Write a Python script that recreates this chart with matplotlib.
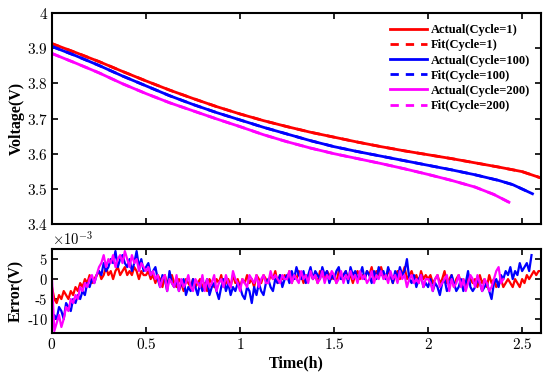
import numpy as np
import matplotlib
matplotlib.use("Agg")
import matplotlib.pyplot as plt
from matplotlib.ticker import FuncFormatter

plt.rcParams['mathtext.fontset'] = 'cm'
plt.rcParams['font.family'] = ['Liberation Serif', 'DejaVu Serif']

# ---------------- data ----------------
t_knots_1 = [0, 0.125, 0.25, 0.375, 0.5, 0.625, 0.75, 0.875, 1.0, 1.125, 1.25, 1.375,
             1.5, 1.625, 1.75, 1.875, 2.0, 2.125, 2.25, 2.375, 2.5, 2.6]
v_actual_1 = [3.913, 3.888, 3.862, 3.834, 3.807, 3.781, 3.757, 3.734, 3.713, 3.694, 3.677, 3.661,
              3.647, 3.633, 3.620, 3.608, 3.597, 3.586, 3.574, 3.562, 3.549, 3.531]
v_fit_1 = [3.913, 3.888, 3.862, 3.834, 3.807, 3.781, 3.757, 3.734, 3.713, 3.694, 3.677, 3.661,
           3.647, 3.633, 3.620, 3.608, 3.597, 3.586, 3.574, 3.562, 3.549, 3.531]

t_knots_100 = [0, 0.125, 0.25, 0.375, 0.5, 0.625, 0.75, 0.875, 1.0, 1.125, 1.25, 1.375,
               1.5, 1.625, 1.75, 1.875, 2.0, 2.125, 2.25, 2.375, 2.45, 2.555]
v_actual_100 = [3.905, 3.879, 3.851, 3.821, 3.793, 3.765, 3.740, 3.717, 3.696, 3.675, 3.656, 3.637,
                3.620, 3.606, 3.593, 3.580, 3.567, 3.554, 3.540, 3.524, 3.512, 3.486]
v_fit_100 = [3.905, 3.879, 3.851, 3.821, 3.793, 3.765, 3.740, 3.717, 3.696, 3.675, 3.656, 3.637,
             3.620, 3.606, 3.593, 3.580, 3.567, 3.554, 3.540, 3.524, 3.512, 3.486]

t_knots_200 = [0, 0.125, 0.25, 0.375, 0.5, 0.625, 0.75, 0.875, 1.0, 1.125, 1.25, 1.375,
               1.5, 1.625, 1.75, 1.875, 2.0, 2.125, 2.25, 2.35, 2.43]
v_actual_200 = [3.885, 3.858, 3.830, 3.799, 3.771, 3.745, 3.722, 3.699, 3.677, 3.654, 3.634, 3.616,
                3.600, 3.586, 3.572, 3.557, 3.541, 3.524, 3.505, 3.484, 3.462]
v_fit_200 = [3.885, 3.858, 3.830, 3.799, 3.771, 3.745, 3.722, 3.699, 3.677, 3.654, 3.634, 3.616,
             3.600, 3.586, 3.572, 3.557, 3.541, 3.524, 3.505, 3.484, 3.462]

# errors in units of 1e-3 V, sampled every 0.0125 h
err_1 = [-2, -5, -6, -4, -5, -3, -4, -5, -3, -4, -2, -3, -1, -2, 0, -1, 1, -1, 0, 1,
         2, 0, 1, 3, 1, 2, 0, 2, 3, 1, 2, 3, 1, 2, 1, 3, 2, 0, 2, 1,
         1, 2, 0, 1, -1, 1, 0, -2, 1, -1, 0, 1, -1, -2, 0, -1, -3, 0, -1, -2,
         0, -2, -1, 0, -2, -1, -3, 0, -1, -2, 0, -1, 1, -2, -1, 0, -2, 1, -1, 0,
         -2, 0, -1, 1, -1, 0, -2, 1, 0, -1, 1, 0, -1, 1, 0, 2, -1, 1, 0, 1,
         0, 2, -1, 1, 0, 2, 1, -1, 1, 0, 2, 0, 1, -1, 2, 1, 0, 2, 1, 0,
         1, -1, 2, 0, 1, 2, 0, 1, -1, 1, 2, 0, 1, 0, 2, 1, 3, 0, 2, 1,
         3, 1, 0, 2, 1, -1, 1, 2, 0, 1, 3, 0, 1, 2, 0, 1, -1, 2, 0, 1,
         0, 1, -1, 0, 1, -1, 0, 2, -1, 0, 1, -2, 0, 1, -1, 0, -2, 1, 0, -1,
         0, -2, 1, -1, 0, -2, 1, -1, 0, -2, -1, 0, -2, -1, 0, -1, -2, 0, -1, -2,
         0, -1, 1, 0, 1, 2, 1, 2, 2]
err_100 = [-12, -9, -10, -7, -8, -10, -6, -7, -8, -5, -6, -4, -5, -3, -4, -1, -2, 0, -1, 1,
           2, 1, 4, 2, 3, 5, 4, 7, 3, 5, 6, 4, 3, 5, 2, 4, 7, 3, 5, 2,
           3, 4, 1, 2, 3, 0, -2, 1, 0, -3, 2, -1, -2, 0, -3, -1, 0, -4, -2, -3,
           0, -2, -4, -1, -3, -2, 0, -4, -2, -1, -3, -5, -2, 0, -3, -1, -4, -2, -3, -1,
           -2, -4, -5, -2, -3, -6, -2, -4, -1, -3, -4, -1, 0, -2, -3, 0, -1, 1, -2, 0,
           1, -1, 2, 0, 3, 1, 0, 2, -1, 1, 3, 0, 2, 1, 0, 3, 1, 2, -1, 1,
           0, 2, 3, 0, 1, 2, -1, 3, 1, 2, 0, 1, 3, 0, 2, 1, -1, 2, 0, 3,
           1, 2, 0, 3, 1, -1, 2, 0, 3, 1, 2, 5, 0, -1, 1, -2, 0, 1, -2, -1,
           -2, 0, -3, -1, -2, -4, -1, 0, -3, -2, 1, -1, -3, -2, 0, -3, -1, 2, -2, -3,
           -2, 0, -1, -3, -2, -1, -3, -5, -1, 0, -2, 1, 0, 2, 1, 3, 0, 2, 1, 4,
           2, 3, 4, 2, 6]
err_200 = [0, -13, -11, -9, -12, -10, -7, -8, -5, -6, -4, -5, -2, -3, -1, -2, 0, 1, -1, 1,
           3, 4, 6, 3, 5, 4, 6, 3, 5, 6, 4, 7, 5, 3, 6, 4, 5, 2, 4, 3,
           2, 3, 1, 2, 0, 1, -2, 0, 1, -3, 0, -1, -2, 1, -3, 0, -2, -1, 1, -2,
           -3, 0, -1, -2, 1, -3, 0, -2, -1, 1, -3, -1, 0, -2, 1, -1, -2, 2, 0, -1,
           -3, 0, -1, -2, 1, 0, -1, 1, -2, 0, 1, -1, -1, 2, 0, 1, 0, -1, 1, 0,
           0, 2, -1, 1, 0, -1, 2, 0, 1, -1, 2, 0, 1, -1, 0, 2, -1, 1, 0, 2,
           1, -1, 0, 2, -1, 1, 0, 2, 0, 1, -1, 2, 0, 1, -1, 0, 2, -1, 1, 0,
           2, 0, 1, -1, 2, 0, 1, -1, 2, 0, 1, -2, 0, 1, -1, 0, -1, 1, -2, 0,
           0, -1, -3, 0, 1, -2, -1, 0, 1, -3, 0, -2, -1, 1, -2, 0, -3, -1, 1, 0,
           -2, 1, -1, -3, 0, -1, -3, -2, 0, 2, 3, -1, 0]

step = 0.0125
t_err_1 = np.arange(len(err_1)) * step
t_err_100 = np.arange(len(err_100)) * step
t_err_200 = np.arange(len(err_200)) * step

# ---------------- figure ----------------
fig = plt.figure(figsize=(5.5, 3.78), dpi=100)
ax1 = fig.add_axes([0.0945, 0.4074, 0.889, 0.558])
ax2 = fig.add_axes([0.0945, 0.119, 0.889, 0.222])

red, blue, mag = '#ff0000', '#0000ff', '#ff00ff'
lw = 2.0
ax1.plot(t_knots_1, v_actual_1, color=red, lw=lw, label='Actual(Cycle=1)')
ax1.plot(t_knots_1, v_fit_1, color=red, lw=lw, ls=(0, (3, 2.5)), label='Fit(Cycle=1)')
ax1.plot(t_knots_100, v_actual_100, color=blue, lw=lw, label='Actual(Cycle=100)')
ax1.plot(t_knots_100, v_fit_100, color=blue, lw=lw, ls=(0, (3, 2.5)), label='Fit(Cycle=100)')
ax1.plot(t_knots_200, v_actual_200, color=mag, lw=lw, label='Actual(Cycle=200)')
ax1.plot(t_knots_200, v_fit_200, color=mag, lw=lw, ls=(0, (3, 2.5)), label='Fit(Cycle=200)')

ax2.plot(t_err_1, err_1, color=red, lw=1.6)
ax2.plot(t_err_100, err_100, color=blue, lw=1.6)
ax2.plot(t_err_200, err_200, color=mag, lw=1.6)


def fmt(v, p):
    return ('-' if v < 0 else '') + r'$%g$' % abs(v)


xlim = (0, 2.6)
for ax in (ax1, ax2):
    ax.set_xlim(*xlim)
    ax.set_xticks([0, 0.5, 1, 1.5, 2, 2.5])
    ax.tick_params(direction='in', top=True, right=True, length=4, width=1.2,
                   labelsize=11, pad=3)
    for s in ax.spines.values():
        s.set_linewidth(1.5)
    ax.xaxis.set_major_formatter(FuncFormatter(fmt))
    ax.yaxis.set_major_formatter(FuncFormatter(fmt))

ax1.set_ylim(3.4, 4.0)
ax1.set_yticks([3.4, 3.5, 3.6, 3.7, 3.8, 3.9, 4.0])
ax1.tick_params(labelbottom=False)
ax1.set_ylabel('Voltage(V)', fontweight='bold', fontsize=11.5)
ax1.yaxis.set_label_coords(-0.056, 0.5)

ax2.set_ylim(-13.5, 7.5)
ax2.set_yticks([-10, -5, 0, 5])
ax2.tick_params(axis='y', labelsize=10.5)
ax2.set_ylabel('Error(V)', fontweight='bold', fontsize=11.5)
ax2.yaxis.set_label_coords(-0.058, 0.5)
ax2.set_xlabel('Time(h)', fontweight='bold', fontsize=11.5, labelpad=2)
ax2.text(0.0, 1.02, r'$\times10^{-3}$', transform=ax2.transAxes,
         fontsize=10.5, ha='left', va='bottom')

leg = ax1.legend(loc='upper right', frameon=False,
                 prop={'weight': 'bold', 'size': 9}, handlelength=3.0,
                 handletextpad=0.25, labelspacing=0.25, borderaxespad=0.5)

fig.savefig('out.png', dpi=100)
